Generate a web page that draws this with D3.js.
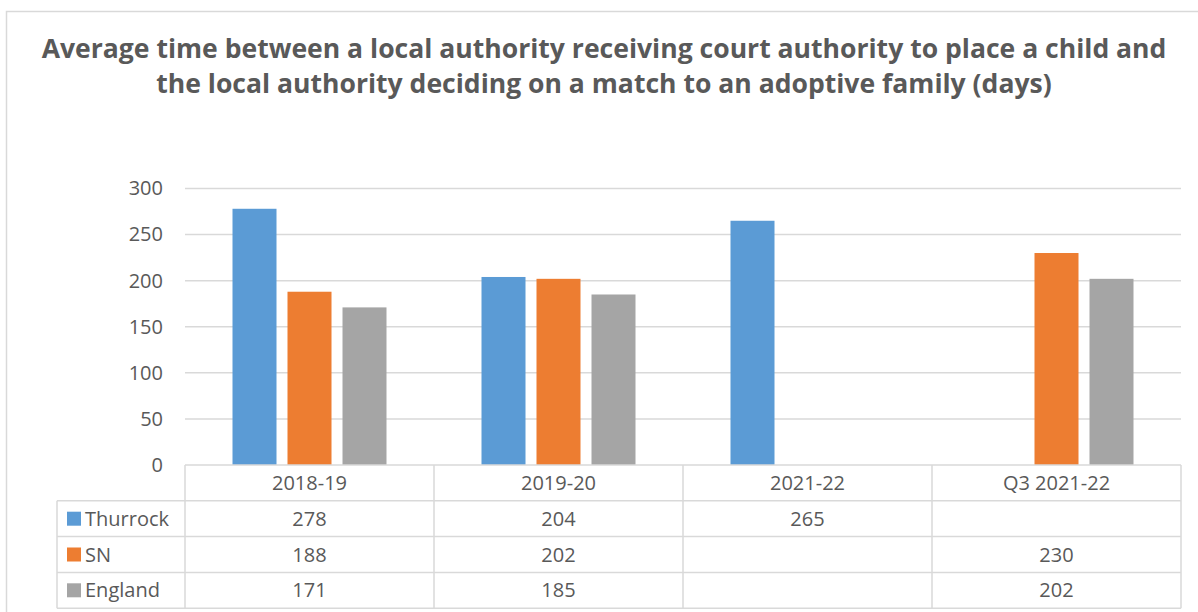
<!DOCTYPE html>
<html>
<head>
<meta charset="utf-8">
<script src="https://cdn.jsdelivr.net/npm/d3@7"></script>
<style>
  body { margin: 0; background: #fff; }
  svg { display: block; font-family: "Open Sans", sans-serif; }
</style>
</head>
<body>
<svg id="chart" width="1198" height="612"></svg>
<script>
// data
var categories = ["2018-19", "2019-20", "2021-22", "Q3 2021-22"];
var seriesNames = ["Thurrock", "SN", "England"];
var thurrock = [278, 204, 265, null];
var sn = [188, 202, null, 230];
var england = [171, 185, null, 202];
var yTicks = [0, 50, 100, 150, 200, 250, 300];
var colors = ["#5B9BD5", "#ED7D31", "#A5A5A5"];
var titleLines = [
  "Average time between a local authority receiving court authority to place a child and",
  "the local authority deciding on a match to an adoptive family (days)"
];

var values = [thurrock, sn, england];
var textCol = "#595959", gridCol = "#d9d9d9";
var fs = 20;

var svg = d3.select("#chart");

// chart border
svg.append("rect")
  .attr("x", 6.5).attr("y", 11.5)
  .attr("width", 1300).attr("height", 800)
  .style("fill", "none").style("stroke", gridCol).style("stroke-width", 1.5);

// title
var title = svg.append("g");
titleLines.forEach(function(t, i){
  title.append("text")
    .attr("x", 604)
    .attr("y", 58 + i * 35)
    .attr("text-anchor", "middle")
    .attr("font-size", 24)
    .attr("font-weight", 700)
    .style("fill", textCol)
    .text(t);
});
// fit first line to the width it has in the picture
var w0 = title.select("text").node().getComputedTextLength();
title.selectAll("text").attr("font-size", 24 * 1125 / w0);

var plotLeft = 185, plotRight = 1181, plotTop = 188.5, base = 465;

var x = d3.scaleBand().domain(categories).range([plotLeft, plotRight]);
var xs = d3.scaleBand().domain(seriesNames).range([0, 154]).paddingInner(0.2);
var y = d3.scaleLinear().domain([0, 300]).range([base, plotTop]);

// gridlines
svg.append("g").selectAll("line")
  .data(yTicks.filter(function(d){ return d > 0; }))
  .enter().append("line")
    .attr("x1", plotLeft).attr("x2", plotRight)
    .attr("y1", function(d){ return y(d); })
    .attr("y2", function(d){ return y(d); })
    .style("stroke", gridCol).style("stroke-width", 1.5);

// y axis labels
var yAxis = svg.append("g")
  .attr("transform", "translate(171,0)")
  .call(d3.axisLeft(y).tickValues(yTicks).tickSize(0).tickPadding(8));
yAxis.select(".domain").remove();
yAxis.selectAll("text")
  .attr("font-size", fs)
  .attr("font-family", "Open Sans")
  .style("fill", textCol);

// bars
seriesNames.forEach(function(s, si){
  svg.append("g").selectAll("rect")
    .data(categories.map(function(c, ci){ return {c: c, v: values[si][ci]}; })
      .filter(function(d){ return d.v != null; }))
    .enter().append("rect")
      .attr("x", function(d){ return x(d.c) + (x.bandwidth() - 154) / 2 + xs(s); })
      .attr("width", xs.bandwidth())
      .attr("y", function(d){ return y(d.v); })
      .attr("height", function(d){ return base - y(d.v); })
      .style("fill", colors[si]);
});

// data table
var rowH = 35.8, legLeft = 57;
var table = svg.append("g");
var lineStyle = function(sel){ sel.style("stroke", gridCol).style("stroke-width", 1.5); };

// horizontal lines
table.append("line").attr("x1", plotLeft).attr("x2", plotRight)
  .attr("y1", base).attr("y2", base).call(lineStyle);
d3.range(1, 5).forEach(function(r){
  table.append("line").attr("x1", legLeft).attr("x2", plotRight)
    .attr("y1", base + r * rowH).attr("y2", base + r * rowH).call(lineStyle);
});
// vertical lines
table.append("line").attr("x1", legLeft).attr("x2", legLeft)
  .attr("y1", base + rowH).attr("y2", base + 4 * rowH).call(lineStyle);
categories.forEach(function(c){
  table.append("line").attr("x1", x(c)).attr("x2", x(c))
    .attr("y1", base).attr("y2", base + 4 * rowH).call(lineStyle);
});
table.append("line").attr("x1", plotRight).attr("x2", plotRight)
  .attr("y1", base).attr("y2", base + 4 * rowH).call(lineStyle);

// header labels
table.selectAll("text.cat")
  .data(categories).enter().append("text")
    .attr("class", "cat")
    .attr("x", function(d){ return x(d) + x.bandwidth() / 2; })
    .attr("y", base + rowH / 2)
    .attr("dy", "0.35em")
    .attr("text-anchor", "middle")
    .attr("font-size", fs)
    .style("fill", textCol)
    .text(function(d){ return d; });

// legend + values
seriesNames.forEach(function(s, si){
  var cy = base + (si + 1.5) * rowH;
  table.append("rect")
    .attr("x", 67).attr("y", cy - 7)
    .attr("width", 14).attr("height", 14)
    .style("fill", colors[si]);
  table.append("text")
    .attr("x", 85).attr("y", cy).attr("dy", "0.35em")
    .attr("font-size", fs)
    .style("fill", textCol)
    .text(s);
  categories.forEach(function(c, ci){
    var v = values[si][ci];
    if (v == null) return;
    table.append("text")
      .attr("x", x(c) + x.bandwidth() / 2)
      .attr("y", cy).attr("dy", "0.35em")
      .attr("text-anchor", "middle")
      .attr("font-size", fs)
      .style("fill", textCol)
      .text(v);
  });
});
</script>
</body>
</html>
